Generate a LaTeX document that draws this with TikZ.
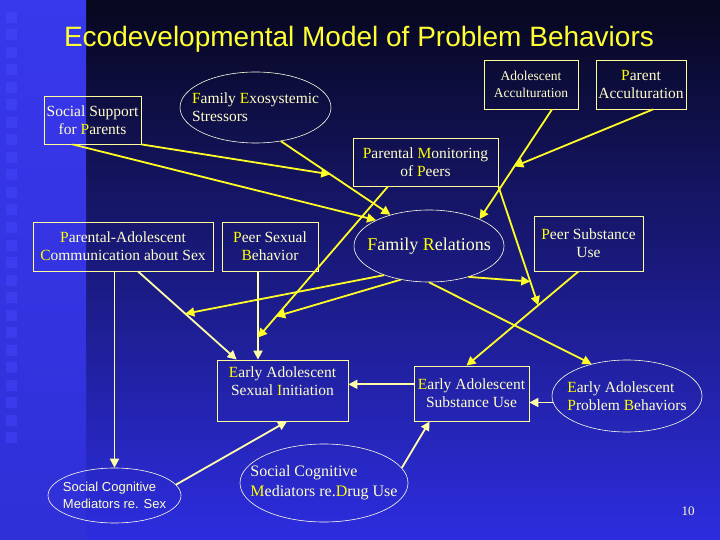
\documentclass[tikz,border=0pt]{standalone}
\usepackage{fontspec}
\setmainfont{Liberation Serif}
\setsansfont{Liberation Sans}
\usepackage{tikz}
\usetikzlibrary{calc,shapes.geometric,arrows.meta}
\definecolor{bgtop}{HTML}{07071E}
\definecolor{bgmid}{HTML}{1E1EA5}
\definecolor{bgbot}{HTML}{2D2DE0}
\definecolor{striptop}{HTML}{3838EC}
\definecolor{stripmid}{HTML}{0B0B35}
\definecolor{stripbot}{HTML}{3030D8}
\definecolor{squarefill}{HTML}{4848FF}
\definecolor{titleyellow}{HTML}{FFFF33}
\definecolor{boxline}{HTML}{FFFF99}
\definecolor{ovalline}{HTML}{FFFFE6}
\definecolor{labeltext}{HTML}{FFFFCC}
\definecolor{initcol}{HTML}{FFFF00}
\definecolor{arrowyellow}{HTML}{FFFF26}
\definecolor{arrowcream}{HTML}{FFFFA8}
\tikzset{
  % --- constructs: measured variables (boxes) and latent ones (ovals) ---
  varbox/.style={draw=boxline, line width=0.8pt, align=center, text=labeltext,
                 inner sep=2pt, font=\fontsize{15.5}{18}\selectfont},
  varoval/.style={ellipse, draw=ovalline, line width=0.6pt, align=left,
                  text=labeltext, inner xsep=-20pt, inner ysep=0pt,
                  font=\fontsize{15.5}{18}\selectfont},
  % --- paths ---
  effect/.style={-{Triangle[length=9pt,width=9pt]}, line width=1.8pt,
                 draw=arrowyellow},
  effect2/.style={effect, draw=arrowcream},
}
\newcommand{\ini}[1]{\textcolor{initcol}{#1}}

\begin{document}
\begin{tikzpicture}[
  x=1pt, y=-1pt,
  heading/.style={font=\sffamily\fontsize{28}{32}\selectfont, text=titleyellow,
                  anchor=base},
  pagenum/.style={font=\fontsize{13}{15}\selectfont, text=labeltext},
]
  % --- slide background ---
  \useasboundingbox (0,0) rectangle (720,540);
  \shade[top color=bgtop, middle color=bgmid, bottom color=bgbot] (86,0) rectangle (720,540);
  \shade[top color=striptop, middle color=stripmid, bottom color=stripbot] (0,0) rectangle (86,540);
  \foreach \i in {0,...,24}
      \fill[squarefill, fill opacity=0.45] (6,{12+\i*17.5}) rectangle ++(11,11);

  \node[heading] (title) at (359,47) {Ecodevelopmental Model of Problem Behaviors};

  % --- ecosystem / family level ---
  \node[varbox, minimum width=97pt, minimum height=48pt] (ssp) at (92.5,120)
        {Social Support\\for \ini{P}arents};
  \node[varoval, minimum width=151pt, minimum height=71pt] (fes) at (255.5,107.5)
        {\ini{F}amily \ini{E}xosystemic\\Stressors};
  \node[varbox, minimum width=94pt, minimum height=49pt,
        font=\fontsize{13.5}{17}\selectfont] (aac) at (531,84.5)
        {Adolescent\\Acculturation};
  \node[varbox, minimum width=90pt, minimum height=49pt] (pac) at (641,84.5)
        {\ini{P}arent\\Acculturation};
  \node[varbox, minimum width=145pt, minimum height=48pt] (pmp) at (425.5,162)
        {\ini{P}arental \ini{M}onitoring\\of \ini{P}eers};

  % --- middle row ---
  \node[varbox, minimum width=180pt, minimum height=49pt] (pas) at (123,246.5)
        {\ini{P}arental-Adolescent\\\ini{C}ommunication about Sex};
  \node[varbox, minimum width=96pt, minimum height=49pt] (psb) at (270,246.5)
        {\ini{P}eer Sexual\\\ini{B}ehavior};
  \node[varoval, minimum width=150pt, minimum height=72pt,
        font=\fontsize{18}{21}\selectfont] (fr) at (429,246)
        {\ini{F}amily \ini{R}elations};
  \node[varbox, minimum width=109pt, minimum height=55pt] (psu) at (588.5,243.5)
        {\ini{P}eer Substance\\Use};

  % --- outcomes ---
  \node[varbox, minimum width=131pt, minimum height=61pt] (easi) at (282.5,390.5)
        {\ini{E}arly Adolescent\\Sexual \ini{I}nitiation\\\mbox{}};
  \node[varbox, minimum width=115pt, minimum height=55pt] (easu) at (471.5,393.5)
        {\ini{E}arly Adolescent\\Substance Use};
  \node[varoval, minimum width=150pt, minimum height=72pt] (eapb) at (627,396)
        {\ini{E}arly Adolescent\\\ini{P}roblem \ini{B}ehaviors};
  \node[varoval, minimum width=133pt, minimum height=55pt,
        font=\sffamily\fontsize{13}{17}\selectfont] (scs) at (114.5,495.5)
        {Social Cognitive\\Mediators re. Sex};
  \node[varoval, minimum width=168pt, minimum height=78pt,
        font=\fontsize{16}{20}\selectfont] (scd) at (324,483)
        {Social Cognitive\\\ini{M}ediators re.\ini{D}rug Use};

  \node[pagenum] (page) at (688,511) {10};

  % --- exosystem -> family (support moderates stressors) ---
  \draw[effect] (fes.-53) -- (fr.141) coordinate[pos=0.45] (j1);
  \draw[effect] ($(ssp.south west)+(29,0)$) -- (fr.154);
  \draw[effect] (ssp.south east) -- (j1);
  % --- acculturation ---
  \draw[effect] ($(aac.south)+(21,0)$) -- (fr.28) coordinate[pos=0.52] (j2);
  \draw[effect] ($(pac.south)+(12,0)$) -- (j2);
  % --- peer substance use, moderated by monitoring ---
  \draw[effect] ($(psu.south)+(-10,0)$) -- ($(easu.north)+(-5,0)$) coordinate[pos=0.36] (j3);
  \draw[effect] (pmp.south east) -- (j3) coordinate[pos=0.8] (j4);
  \draw[effect] (fr.-38) -- (j4);
  % --- peer sexual behavior, moderated by monitoring ---
  \draw[effect2] ($(psb.south)+(-12,0)$) -- ($(easi.north)+(-24.5,0)$) coordinate[pos=0.75] (j5);
  \draw[effect] ($(pmp.south)+(-37.5,0)$) -- (j5) coordinate[pos=0.86] (j6);
  \draw[effect] (fr.-130) -- (j6);
  % --- communication about sex ---
  \draw[effect2] ($(pas.south)+(15,0)$) -- ($(easi.north west)+(20,0)$) coordinate[pos=0.48] (j7);
  \draw[effect] (fr.-147) -- (j7);
  \draw[effect2] (scs.north |- pas.south) -- (scs.north);
  % --- into the outcomes ---
  \draw[effect] (fr.south) -- (eapb.138);
  \draw[effect2] (scs.10) -- ($(easi.south)+(4.5,0)$);
  \draw[effect2] (easu.171) -- (easu.171 -| easi.east);
  \draw[effect2] (eapb.185) -- (eapb.185 -| easu.east);
  \draw[effect2] (scd.11) -- ($(easu.south west)+(16,0)$);
\end{tikzpicture}
\end{document}
